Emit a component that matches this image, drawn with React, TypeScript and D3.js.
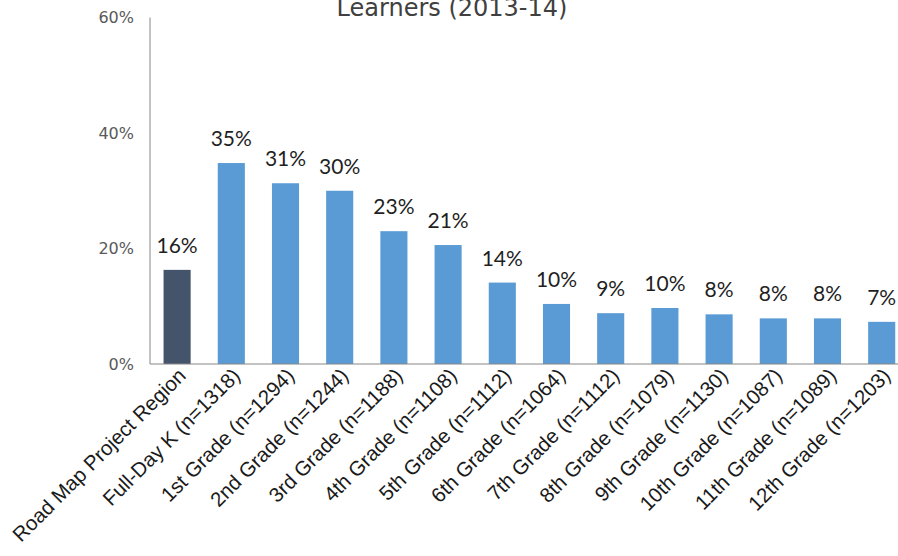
import React from "react";
import * as d3 from "d3";

const categories = [
  "Road Map Project Region",
  "Full-Day K (n=1318)",
  "1st Grade (n=1294)",
  "2nd Grade (n=1244)",
  "3rd Grade (n=1188)",
  "4th Grade (n=1108)",
  "5th Grade (n=1112)",
  "6th Grade (n=1064)",
  "7th Grade (n=1112)",
  "8th Grade (n=1079)",
  "9th Grade (n=1130)",
  "10th Grade (n=1087)",
  "11th Grade (n=1089)",
  "12th Grade (n=1203)",
];
const values = [16.3, 34.8, 31.3, 30.0, 23.0, 20.6, 14.1, 10.4, 8.8, 9.7, 8.6, 7.9, 7.9, 7.3];
const valueLabels = ["16%", "35%", "31%", "30%", "23%", "21%", "14%", "10%", "9%", "10%", "8%", "8%", "8%", "7%"];
const yTicks = [0, 20, 40, 60];
const titleText = "Learners (2013-14)";

const W = 898;
const H = 556;
const left = 150;
const bandStep = 54.2;
const top = 17.5;
const bottom = 364;

export default function App() {
  const x = d3
    .scaleBand<string>()
    .domain(categories)
    .range([left, left + bandStep * categories.length])
    .paddingInner(0.5)
    .paddingOuter(0.25);
  const y = d3.scaleLinear().domain([0, 60]).range([bottom, top]);
  const bw = x.bandwidth();

  return (
    <svg
      width={W}
      height={H}
      style={{ position: "absolute", left: 0, top: 0, background: "#fff" }}
    >
      <text
        x={452}
        y={16}
        textAnchor="middle"
        fontFamily="'DejaVu Sans', sans-serif"
        fontSize={24}
        fill="#404040"
      >
        {titleText}
      </text>
      {categories.map((c, i) => (
        <rect
          key={c}
          x={x(c)}
          y={y(values[i])}
          width={bw}
          height={bottom - y(values[i])}
          fill={i === 0 ? "#44546A" : "#5B9BD5"}
        />
      ))}
      {categories.map((c, i) => (
        <text
          key={"v" + c}
          x={(x(c) as number) + bw / 2}
          y={y(values[i]) - 17}
          textAnchor="middle"
          fontFamily="Lato, 'Open Sans', sans-serif"
          fontSize={21}
          fill="#1f1f1f"
        >
          {valueLabels[i]}
        </text>
      ))}
      <line x1={left} x2={left} y1={top} y2={bottom} stroke="#868686" strokeWidth={1} />
      <line x1={left} x2={W} y1={bottom} y2={bottom} stroke="#868686" strokeWidth={1} />
      {yTicks.map((t) => (
        <text
          key={"t" + t}
          x={134}
          y={y(t)}
          dy="0.36em"
          textAnchor="end"
          fontFamily="'DejaVu Sans', sans-serif"
          fontSize={16}
          fill="#595959"
        >
          {t + "%"}
        </text>
      ))}
      {categories.map((c) => {
        const cx = (x(c) as number) + bw / 2 + 10;
        const cy = 377;
        return (
          <text
            key={"x" + c}
            transform={`translate(${cx},${cy}) rotate(-45)`}
            textAnchor="end"
            fontFamily="'Liberation Sans', Arial, sans-serif"
            fontSize={20.5}
            fill="#1a1a1a"
          >
            {c}
          </text>
        );
      })}
    </svg>
  );
}
